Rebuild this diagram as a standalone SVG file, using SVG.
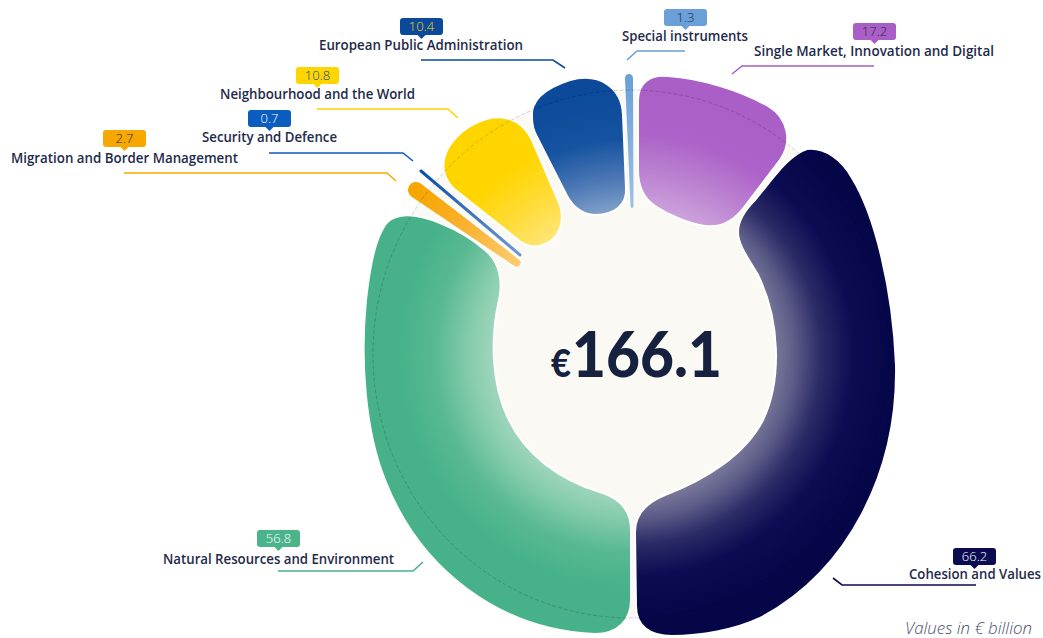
<svg xmlns="http://www.w3.org/2000/svg" width="1043" height="638" viewBox="0 0 1043 638">
<style>
.lbl{font-family:"Open Sans","Liberation Sans",sans-serif;font-weight:600;font-size:13.5px;fill:#1E2A4A}
.val{font-family:"Open Sans","Liberation Sans",sans-serif;font-weight:300;font-size:13px;text-anchor:middle}
.seg{stroke:#ffffff;stroke-width:2}
.con{fill:none;stroke-width:1.6}
</style>
<defs>
<path id="bdg" d="M3 0 H40 A3 3 0 0 1 43 3 V14 A3 3 0 0 1 40 17 H25.5 L21.5 21 L17.5 17 H3 A3 3 0 0 1 0 14 V3 A3 3 0 0 1 3 0 Z"/>
<radialGradient id="gNavy" gradientUnits="userSpaceOnUse" cx="632" cy="355" r="270">
<stop offset="0.5" stop-color="#83829F"/><stop offset="0.6" stop-color="#5E5D89"/><stop offset="0.7" stop-color="#2B2B67"/><stop offset="0.82" stop-color="#0B0C52"/><stop offset="1" stop-color="#050648"/>
</radialGradient>
<radialGradient id="gGreen" gradientUnits="userSpaceOnUse" cx="632" cy="355" r="270">
<stop offset="0.5" stop-color="#A3D7BF"/><stop offset="0.6" stop-color="#86CCAD"/><stop offset="0.73" stop-color="#58B992"/><stop offset="0.86" stop-color="#47B289"/>
</radialGradient>
<radialGradient id="gYellow" gradientUnits="userSpaceOnUse" cx="632" cy="355" r="270">
<stop offset="0.5" stop-color="#FFE77F"/><stop offset="0.66" stop-color="#FFDC3A"/><stop offset="0.82" stop-color="#FFD500"/>
</radialGradient>
<radialGradient id="gBlue" gradientUnits="userSpaceOnUse" cx="632" cy="355" r="270">
<stop offset="0.52" stop-color="#87A5CC"/><stop offset="0.66" stop-color="#4A76B4"/><stop offset="0.8" stop-color="#1653A0"/><stop offset="1" stop-color="#0B4A9A"/>
</radialGradient>
<radialGradient id="gPurple" gradientUnits="userSpaceOnUse" cx="632" cy="355" r="270">
<stop offset="0.48" stop-color="#D4B0E0"/><stop offset="0.66" stop-color="#BD85D2"/><stop offset="0.82" stop-color="#AC62C8"/><stop offset="1" stop-color="#A95FC6"/>
</radialGradient>
<radialGradient id="gOrange" gradientUnits="userSpaceOnUse" cx="632" cy="355" r="270">
<stop offset="0.55" stop-color="#FDCB6E"/><stop offset="0.8" stop-color="#F9B02A"/><stop offset="1" stop-color="#F7A600"/>
</radialGradient>
<linearGradient id="gSec" gradientUnits="userSpaceOnUse" x1="421" y1="171" x2="520" y2="255">
<stop offset="0" stop-color="#0A4FA8"/><stop offset="1" stop-color="#6F9AD3"/>
</linearGradient>
<linearGradient id="gSpec" gradientUnits="userSpaceOnUse" x1="629" y1="74" x2="632" y2="208">
<stop offset="0" stop-color="#6A9FD8"/><stop offset="1" stop-color="#9DC0E7"/>
</linearGradient>
</defs>

<rect width="1043" height="638" fill="#ffffff"/>
<ellipse id="disk" cx="631" cy="354" rx="258" ry="264" fill="#FBF9F4"/>

<g id="node-cohesion">
<path class="seg" fill="url(#gNavy)" d="M807 149 C825 147 842 160 852 178 C875 215 893 290 896 365 C898 470 850 570 760 618 C735 630 700 636 672 636 C650 636 636 626 636 606 L635 532 C635 515 645 503 665 495 C705 480 745 455 763 420 C782 380 780 320 758 275 C748 258 738 245 738 232 C738 220 745 210 755 200 C772 180 788 155 807 149 Z"/>
<use href="#bdg" x="953" y="548" fill="#0A0B50"/>
<text class="val" x="974.5" y="561" fill="#ffffff">66.2</text>
<text class="lbl" x="909" y="579" textLength="132" lengthAdjust="spacingAndGlyphs">Cohesion and Values</text>
</g>

<g id="node-natural">
<path class="seg" fill="url(#gGreen)" d="M400 216 C420 212 460 228 485 250 C500 262 503 282 499 300 C490 340 492 385 508 418 C525 455 560 480 600 492 C620 498 631 510 631 530 L631 600 C631 620 618 634 595 634 C500 630 420 570 385 480 C365 430 360 360 366 300 C370 265 375 240 385 225 C389 219 394 217 400 216 Z"/>
<use href="#bdg" x="257" y="530" fill="#4BB48B"/>
<text class="val" x="278.5" y="543" fill="#ffffff">56.8</text>
<text class="lbl" x="163" y="564" textLength="231" lengthAdjust="spacingAndGlyphs">Natural Resources and Environment</text>
</g>

<g id="node-migration">
<path class="seg" stroke-width="1.5" fill="url(#gOrange)" d="M421.3 182.7 L519.9 258.95 A5 5 0 0 1 514.1 267.05 L410.7 197.3 A9 9 0 0 1 421.3 182.7 Z"/>
<use href="#bdg" x="103" y="130" fill="#F7A800"/>
<text class="val" x="124.5" y="143" fill="#2A2A3A">2.7</text>
<text class="lbl" x="11" y="163" textLength="227" lengthAdjust="spacingAndGlyphs">Migration and Border Management</text>
</g>

<g id="node-security">
<line x1="421" y1="171" x2="520" y2="255" stroke="url(#gSec)" stroke-width="3" stroke-linecap="round"/>
<use href="#bdg" x="248" y="110" fill="#0A5CBF"/>
<text class="val" x="269.5" y="123" fill="#ffffff">0.7</text>
<text class="lbl" x="202" y="142" textLength="135" lengthAdjust="spacingAndGlyphs">Security and Defence</text>
</g>

<g id="node-neighbourhood">
<path class="seg" fill="url(#gYellow)" d="M445 175 C438 155 455 132 478 122 C500 112 522 118 532 140 L558 200 C566 218 562 240 540 246 C530 248 522 244 516 238 L458 192 C451 187 447 181 445 175 Z"/>
<use href="#bdg" x="296" y="67" fill="#FFD500"/>
<text class="val" x="317.5" y="80" fill="#0B4A9A">10.8</text>
<text class="lbl" x="220" y="99" textLength="195" lengthAdjust="spacingAndGlyphs">Neighbourhood and the World</text>
</g>

<g id="node-administration">
<path class="seg" fill="url(#gBlue)" d="M532 118 C530 100 545 88 570 80 C600 72 622 88 623 115 L626 188 C627 205 615 215 595 215 C583 215 573 207 567 196 L536 135 C533 129 532 124 532 118 Z"/>
<use href="#bdg" x="400" y="18" fill="#0B4A9A"/>
<text class="val" x="421.5" y="31" fill="#FFD200">10.4</text>
<text class="lbl" x="319" y="50" textLength="204" lengthAdjust="spacingAndGlyphs">European Public Administration</text>
</g>

<g id="node-special">
<path fill="url(#gSpec)" d="M625 79 Q625 74 629 74 Q633 74 633 79 L633.5 205 Q633.5 208 632 208 Q630.5 208 630.5 205 Z"/>
<use href="#bdg" x="664" y="9" fill="#6A9FD8"/>
<text class="val" x="685.5" y="22" fill="#1E2A4A">1.3</text>
<text class="lbl" x="622" y="41" textLength="126" lengthAdjust="spacingAndGlyphs">Special instruments</text>
</g>

<g id="node-single-market">
<path class="seg" fill="url(#gPurple)" d="M638 100 C638 83 650 74 668 76 C700 78 740 90 768 106 C788 118 793 142 780 160 L745 206 C735 220 722 228 705 226 C690 224 670 216 655 206 C643 198 638 186 638 170 Z"/>
<use href="#bdg" x="853" y="23" fill="#A95FC6"/>
<text class="val" x="874.5" y="36" fill="#1E2A4A">17.2</text>
<text class="lbl" x="754" y="56" textLength="240" lengthAdjust="spacingAndGlyphs">Single Market, Innovation and Digital</text>
</g>

<ellipse id="guide" cx="631" cy="354" rx="258" ry="264" fill="none" stroke="#000" stroke-opacity="0.22" stroke-width="0.8" stroke-dasharray="4 2"/>

<g id="connectors">
<path class="con" stroke="#0B4A9A" d="M421 60 H553 L565 68"/>
<path class="con" stroke="#FFD200" d="M317 109 H448 L458 118"/>
<path class="con" stroke="#0A5CBF" d="M269 153 H403 L413 161"/>
<path class="con" stroke="#F7A800" d="M124 173 H387 L396 181"/>
<path class="con" stroke="#6A9FD8" d="M685 51 H637 L627 60"/>
<path class="con" stroke="#A95FC6" d="M874 66 H742 L732 74"/>
<path class="con" stroke="#4BB48B" d="M278 571 H413 L423 562"/>
<path class="con" stroke="#0A0B50" d="M976 585 H842 L833 578"/>
</g>

<g id="total">
<text x="551" y="377" font-family="Lato,'Liberation Sans',sans-serif" font-weight="900" font-size="37" fill="#16213F" textLength="20" lengthAdjust="spacingAndGlyphs">€</text>
<text x="572" y="377" font-family="Lato,'Liberation Sans',sans-serif" font-weight="900" font-size="62" fill="#16213F" textLength="150" lengthAdjust="spacingAndGlyphs">166.1</text>
</g>

<text x="905" y="634" font-family="'Open Sans','Liberation Sans',sans-serif" font-style="italic" font-weight="300" font-size="15.5" fill="#4A5070" textLength="127" lengthAdjust="spacingAndGlyphs">Values in € billion</text>
</svg>
